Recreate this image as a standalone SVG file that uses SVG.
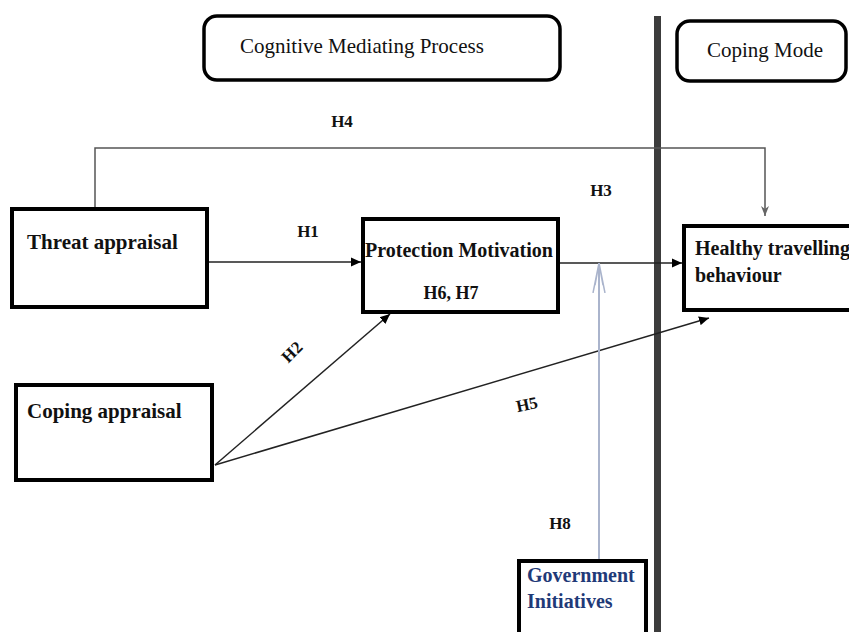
<svg xmlns="http://www.w3.org/2000/svg" width="849" height="632" viewBox="0 0 849 632">
<style>
.lbl{font-family:"Liberation Serif","Times New Roman",serif;font-weight:bold;fill:#111}
.hd{font-family:"Liberation Serif","Times New Roman",serif;font-size:21px;fill:#111}
.box{fill:#fff;stroke:#000;stroke-width:4}
.hbox{fill:#fff;stroke:#000;stroke-width:3.5}
.h{font-size:17px}
.n{font-size:20px}
.n2{font-size:21px}
</style>
<defs>
<marker id="ah" viewBox="0 0 10 10" refX="10" refY="5" markerWidth="10" markerHeight="10" markerUnits="userSpaceOnUse" orient="auto">
<path d="M0,0.5 L10,5 L0,9.5 z" fill="#000"/>
</marker>
<marker id="ahg" viewBox="0 0 10 10" refX="10" refY="5" markerWidth="10" markerHeight="10" markerUnits="userSpaceOnUse" orient="auto">
<path d="M0,1 L10,5 L0,9 L3,5 z" fill="#666"/>
</marker>
<marker id="ahb" viewBox="0 0 30 14" refX="30" refY="7" markerWidth="30" markerHeight="14" markerUnits="userSpaceOnUse" orient="auto">
<path d="M0,1 L30,7 L0,13 M8,3 L30,7 L8,11" fill="none" stroke="#aab4cc" stroke-width="1.5"/>
</marker>
</defs>
<rect width="849" height="632" fill="#fff"/>

<g id="divider">
<rect x="654" y="16" width="7" height="620" fill="#3c3c3c"/>
</g>

<g id="cognitive-header">
<rect class="hbox" x="204" y="16" width="356" height="64" rx="13"/>
<text class="hd" x="240" y="53">Cognitive Mediating Process</text>
</g>

<g id="coping-header">
<rect class="hbox" x="677" y="21" width="169" height="60" rx="13"/>
<text class="hd" x="765" y="57" text-anchor="middle">Coping Mode</text>
</g>

<g id="connectors" fill="none">
<path d="M95,208 V148 H765 V216" stroke="#555" stroke-width="1.5" marker-end="url(#ahg)"/>
<path d="M208,262 H361" stroke="#222" stroke-width="1.5" marker-end="url(#ah)"/>
<path d="M558,263 H682" stroke="#222" stroke-width="1.5" marker-end="url(#ah)"/>
<path d="M215,465 L390,314" stroke="#222" stroke-width="1.5" marker-end="url(#ah)"/>
<path d="M215,465 L709,318" stroke="#222" stroke-width="1.5" marker-end="url(#ah)"/>
<path d="M599,559 V263" stroke="#aab4cc" stroke-width="2" marker-end="url(#ahb)"/>
<text class="lbl h" x="342" y="127" text-anchor="middle">H4</text>
<text class="lbl h" x="308" y="237" text-anchor="middle">H1</text>
<text class="lbl h" x="601" y="196" text-anchor="middle">H3</text>
<text class="lbl h" x="0" y="0" text-anchor="middle" transform="translate(296,356) rotate(-45)">H2</text>
<text class="lbl h" x="0" y="0" text-anchor="middle" transform="translate(528,410) rotate(-12)">H5</text>
<text class="lbl h" x="560" y="529" text-anchor="middle">H8</text>
</g>

<g id="threat-appraisal">
<rect class="box" x="12" y="209" width="195" height="98"/>
<text class="lbl n2" x="27" y="249">Threat appraisal</text>
</g>

<g id="coping-appraisal">
<rect class="box" x="16" y="385" width="196" height="95"/>
<text class="lbl n2" x="27" y="418">Coping appraisal</text>
</g>

<g id="protection-motivation">
<rect class="box" x="363" y="219" width="195" height="93"/>
<text class="lbl n" x="365" y="257">Protection Motivation</text>
<text class="lbl" x="451" y="299" font-size="18" text-anchor="middle">H6, H7</text>
</g>

<g id="healthy-travelling">
<rect class="box" x="684" y="226" width="175" height="84"/>
<text class="lbl n" x="695" y="255">Healthy travelling</text>
<text class="lbl n" x="695" y="282">behaviour</text>
</g>

<g id="government-initiatives">
<rect class="box" x="519" y="561" width="127" height="80"/>
<text class="lbl n" x="527" y="582" style="fill:#1f3a78">Government</text>
<text class="lbl n" x="527" y="608" style="fill:#1f3a78">Initiatives</text>
</g>
</svg>
